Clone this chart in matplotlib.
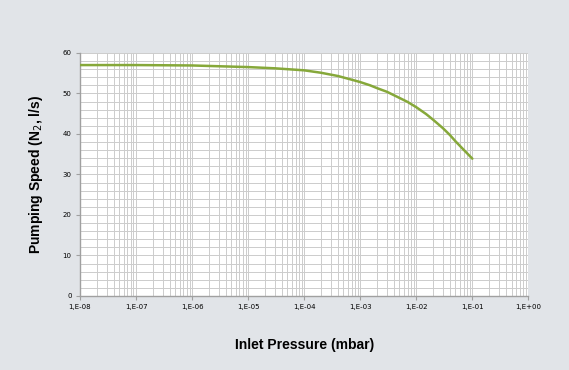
import matplotlib
matplotlib.use("Agg")
import matplotlib.pyplot as plt
import numpy as np

# Pumping speed curve
pressure = [1e-8, 1e-7, 1e-6, 1e-5, 3e-5, 1e-4, 2e-4, 4e-4, 7e-4, 1e-3,
            1.5e-3, 2e-3, 3e-3, 5e-3, 7e-3, 1e-2, 1.5e-2, 2e-2, 3e-2,
            4e-2, 5e-2, 7e-2, 1e-1]
speed = [57.0, 57.0, 56.9, 56.5, 56.2, 55.7, 55.1, 54.3, 53.4, 52.8,
         52.0, 51.3, 50.4, 48.9, 47.9, 46.6, 44.9, 43.5, 41.4,
         39.7, 38.2, 36.1, 33.9]

xticks = [1e-8, 1e-7, 1e-6, 1e-5, 1e-4, 1e-3, 1e-2, 1e-1, 1e0]
xticklabels = ["1,E-08", "1,E-07", "1,E-06", "1,E-05", "1,E-04",
               "1,E-03", "1,E-02", "1,E-01", "1,E+00"]
yticks = [0, 10, 20, 30, 40, 50, 60]

bg = "#e1e4e8"
fig = plt.figure(figsize=(5.69, 3.70), dpi=100, facecolor=bg)
ax = fig.add_axes([0.1406, 0.2, 0.788, 0.657])
ax.set_facecolor("white")

ax.plot(pressure, speed, color="#86a83a", lw=1.8, zorder=3,
        solid_joinstyle="round", solid_capstyle="round")

ax.set_xscale("log")
ax.set_xlim(1e-8, 1e0)
ax.set_ylim(0, 60)
ax.set_xticks(xticks)
ax.set_xticklabels(xticklabels)
ax.set_xticks([m * 10.0 ** e for e in range(-8, 0) for m in range(2, 10)], minor=True)
ax.set_xticklabels([], minor=True)
ax.set_yticks(yticks)
ax.set_yticks(np.arange(0, 61, 2), minor=True)

ax.grid(which="both", color="#cccccc", lw=0.7)
ax.set_axisbelow(True)
for s in ["top", "right"]:
    ax.spines[s].set_visible(False)
for s in ["left", "bottom"]:
    ax.spines[s].set_color("#a0a0a0")
    ax.spines[s].set_linewidth(1.0)
ax.tick_params(which="major", length=3, color="#a0a0a0", labelsize=5, pad=3)
ax.tick_params(which="minor", length=0)

lbl_font = dict(family=["Liberation Sans", "DejaVu Sans"], fontweight="bold", fontsize=10)
ax.set_xlabel("Inlet Pressure (mbar)", labelpad=20, **lbl_font)
ax.set_ylabel("Pumping Speed (N$_2$, l/s)", labelpad=13, **lbl_font)

fig.savefig("out.png", dpi=100, facecolor=bg)
